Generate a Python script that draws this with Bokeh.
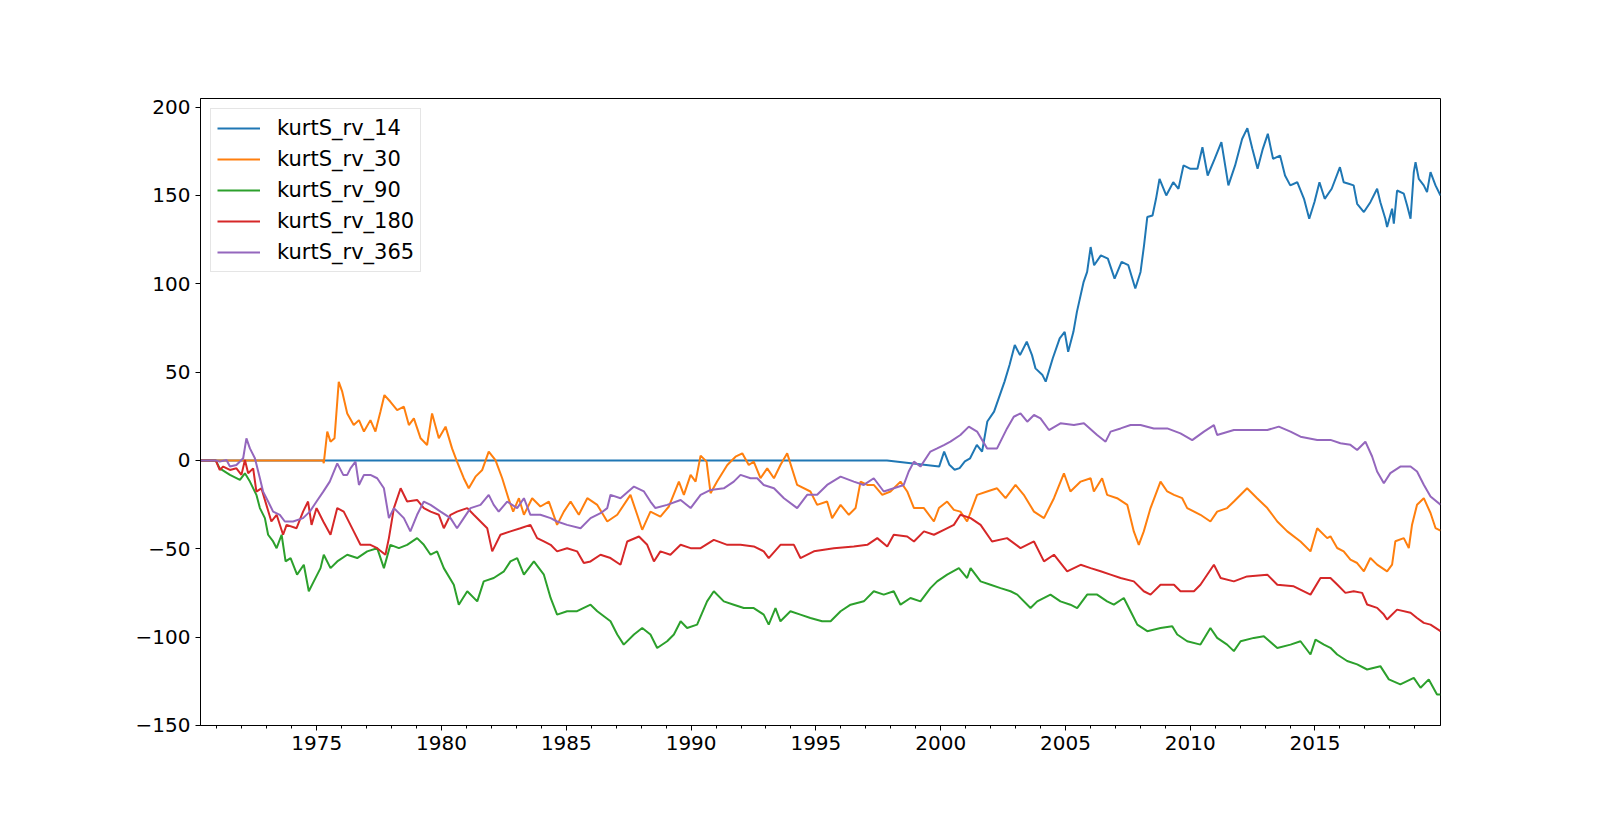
from bokeh.plotting import figure
from bokeh.models import Range1d, FixedTicker, Legend, LegendItem
from bokeh.embed import file_html
from bokeh.resources import INLINE

# (decimal year, value) pairs
kurtS_rv_14 = [
    (1970.34, 0), (1997.85, 0), (1999.94, -3.5), (2000.14, 5), (2000.35, -2.5), (2000.56, -5.3),
    (2000.76, -4.4), (2000.97, -0.6), (2001.18, 1.2), (2001.45, 8.8), (2001.66, 5), (2001.87, 22),
    (2002.14, 27.6), (2002.42, 38.9), (2002.56, 44.6), (2002.76, 54), (2002.97, 65.3), (2003.18, 59.6),
    (2003.45, 67.2), (2003.66, 59.6), (2003.80, 52.1), (2004.08, 48.3), (2004.21, 44.6), (2004.49, 57.7),
    (2004.77, 69.1), (2004.97, 72.8), (2005.11, 61.5), (2005.32, 72.8), (2005.46, 84.1), (2005.73, 101.1),
    (2005.87, 106.7), (2006.01, 120.8), (2006.15, 110.5), (2006.42, 116.1), (2006.70, 114.2), (2006.97, 102.9),
    (2007.25, 112.4), (2007.52, 110.5), (2007.80, 97.3), (2008.01, 106.7), (2008.15, 121.8), (2008.28, 137.8),
    (2008.49, 138.7), (2008.63, 148.1), (2008.77, 159.4), (2009.04, 150), (2009.32, 157.5), (2009.53, 153.8),
    (2009.73, 167), (2010.01, 165.1), (2010.29, 165.1), (2010.49, 177.3), (2010.70, 161.3), (2010.98, 170.7),
    (2011.25, 180.2), (2011.53, 155.7), (2011.80, 167), (2012.08, 182), (2012.29, 188.1), (2012.49, 176.4),
    (2012.70, 165.1), (2012.91, 176.4), (2013.11, 184.9), (2013.32, 170.7), (2013.60, 172.6), (2013.80, 161.3),
    (2014.01, 155.7), (2014.29, 157.5), (2014.56, 148.1), (2014.77, 136.8), (2014.98, 146.3), (2015.18, 157.5),
    (2015.39, 148.1), (2015.67, 153.8), (2016.0, 166), (2016.15, 157.5), (2016.35, 156.6), (2016.55, 155.7),
    (2016.69, 145.3), (2016.96, 140.6), (2017.22, 146.2), (2017.49, 153.8), (2017.62, 146.2), (2017.82, 136.8),
    (2017.89, 132.1), (2018.09, 142.5), (2018.16, 134), (2018.29, 152.8), (2018.56, 151), (2018.69, 144.4),
    (2018.83, 136.8), (2018.96, 163.2), (2019.03, 168.8), (2019.16, 159.4), (2019.36, 155.7), (2019.49, 151.9),
    (2019.63, 163.2), (2019.83, 155.7), (2020.03, 150),
]

kurtS_rv_30 = [
    (1970.34, 0), (1975.25, 0), (1975.28, -1.6), (1975.42, 16.3), (1975.55, 10.6), (1975.71, 12.5),
    (1975.88, 44.5), (1976.02, 38.9), (1976.22, 26.6), (1976.48, 20), (1976.69, 22.8), (1976.89, 16.3),
    (1977.15, 22.8), (1977.35, 16.3), (1977.55, 27.5), (1977.71, 37), (1977.95, 33.2), (1978.22, 28.5),
    (1978.49, 30.4), (1978.69, 20), (1978.89, 23.8), (1979.16, 12.5), (1979.42, 8.7), (1979.62, 26.6),
    (1979.89, 12.5), (1980.16, 19.1), (1980.42, 6.8), (1980.62, -0.7), (1980.89, -10.1), (1981.09, -15.8),
    (1981.36, -9.2), (1981.63, -5.4), (1981.89, 5), (1982.16, 0.2), (1982.43, -10.1), (1982.70, -22.4),
    (1982.87, -29), (1983.10, -21.4), (1983.30, -30.8), (1983.63, -21.4), (1983.96, -26.1), (1984.30, -23.3),
    (1984.63, -36.5), (1984.90, -29), (1985.17, -23.3), (1985.50, -30.8), (1985.84, -21.4), (1986.24, -25.2),
    (1986.64, -34.6), (1987.04, -30.8), (1987.57, -19.5), (1987.84, -30.8), (1988.04, -39.3), (1988.37, -29),
    (1988.77, -31.8), (1989.11, -26.1), (1989.51, -12), (1989.71, -19.5), (1989.98, -8.2), (1990.18, -12),
    (1990.38, 2.7), (1990.62, -0.7), (1990.78, -18.6), (1991.04, -12), (1991.45, -2.6), (1991.78, 2.1),
    (1992.05, 4), (1992.31, -2.6), (1992.51, -0.7), (1992.78, -10.1), (1993.05, -4.5), (1993.32, -10.1),
    (1993.58, -2.6), (1993.85, 4), (1994.25, -13.9), (1994.78, -17.6), (1995.05, -25.2), (1995.45, -23.3),
    (1995.65, -32.7), (1995.99, -25.2), (1996.32, -30.8), (1996.59, -27), (1996.79, -12), (1997.06, -13.9),
    (1997.32, -13.9), (1997.66, -19.5), (1997.99, -17.6), (1998.39, -12), (1998.66, -17.6), (1998.93, -27),
    (1999.33, -27), (1999.73, -34.6), (1999.93, -27), (2000.26, -23.3), (2000.53, -28), (2000.79, -29),
    (2001.06, -34.6), (2001.46, -19.5), (2001.86, -17.6), (2002.26, -15.8), (2002.60, -21.4), (2003.00, -13.9),
    (2003.33, -19.5), (2003.74, -29), (2004.14, -32.7), (2004.54, -21.4), (2004.94, -7.3), (2005.20, -17.6),
    (2005.61, -12), (2006.01, -10.1), (2006.14, -17.6), (2006.47, -10.1), (2006.67, -19.5), (2007.07, -21.4),
    (2007.48, -25.2), (2007.74, -40.2), (2007.94, -47.8), (2008.14, -40.2), (2008.41, -27), (2008.81, -12),
    (2009.08, -17.6), (2009.35, -19.5), (2009.68, -21.4), (2009.88, -27), (2010.41, -30.8), (2010.81, -34.6),
    (2011.08, -29), (2011.48, -27), (2011.75, -23.3), (2012.28, -15.8), (2012.68, -21.4), (2013.09, -27),
    (2013.49, -34.6), (2013.89, -40.2), (2014.42, -45.9), (2014.82, -51.5), (2015.09, -38.4), (2015.49, -44),
    (2015.62, -43), (2015.89, -49.6), (2016.15, -51.5), (2016.42, -56.2), (2016.69, -58.1), (2016.96, -62.8),
    (2017.22, -55.3), (2017.49, -59), (2017.89, -62.8), (2018.09, -59), (2018.22, -45.8), (2018.56, -44),
    (2018.76, -49.6), (2018.89, -36.4), (2019.09, -25.1), (2019.36, -21.4), (2019.63, -29.8), (2019.83, -38.3),
    (2020.03, -39.8),
]

kurtS_rv_90 = [
    (1970.34, 0), (1970.95, 0), (1971.11, -4.5), (1971.52, -8.2), (1971.92, -11), (1972.12, -7.3),
    (1972.32, -12), (1972.58, -19.5), (1972.72, -27), (1972.92, -32.7), (1973.05, -42.1), (1973.25, -45.9),
    (1973.39, -49.7), (1973.59, -42.1), (1973.75, -57.2), (1973.95, -55.3), (1974.21, -64.7), (1974.48, -59.1),
    (1974.68, -74.1), (1974.88, -68.5), (1975.15, -61), (1975.28, -53.4), (1975.55, -61), (1975.82, -57.2),
    (1976.22, -53.4), (1976.62, -55.3), (1977.02, -51.5), (1977.42, -49.7), (1977.69, -61), (1977.95, -47.8),
    (1978.29, -49.7), (1978.62, -47.8), (1979.02, -44), (1979.29, -47.8), (1979.56, -53.4), (1979.82, -51.5),
    (1980.09, -61), (1980.49, -70.4), (1980.69, -81.7), (1981.03, -74.1), (1981.43, -79.8), (1981.69, -68.5),
    (1982.09, -66.6), (1982.50, -62.8), (1982.76, -57.2), (1983.03, -55.3), (1983.30, -64.7), (1983.70, -57.2),
    (1984.10, -64.7), (1984.37, -77.9), (1984.63, -87.3), (1985.03, -85.4), (1985.43, -85.4), (1985.70, -83.5),
    (1985.97, -81.7), (1986.24, -85.4), (1986.77, -91.1), (1987.04, -98.6), (1987.30, -104.3), (1987.71, -98.6),
    (1988.04, -94.9), (1988.37, -98.6), (1988.64, -106.2), (1989.04, -102.4), (1989.31, -98.6), (1989.58, -91.1),
    (1989.84, -94.9), (1990.24, -93), (1990.64, -79.8), (1990.91, -74.1), (1991.31, -79.8), (1991.71, -81.7),
    (1992.11, -83.6), (1992.51, -83.6), (1992.91, -87.3), (1993.11, -93), (1993.38, -83.6), (1993.58, -91.1),
    (1993.98, -85.4), (1994.38, -87.3), (1994.78, -89.2), (1995.25, -91.1), (1995.59, -91.1), (1995.99, -85.4),
    (1996.39, -81.7), (1996.92, -79.8), (1997.32, -74.1), (1997.72, -76), (1998.12, -74.1), (1998.39, -81.7),
    (1998.79, -77.9), (1999.19, -79.8), (1999.59, -72.3), (1999.86, -68.5), (2000.26, -64.7), (2000.73, -61),
    (2001.06, -66.6), (2001.20, -61), (2001.60, -68.5), (2002.00, -70.4), (2002.40, -72.3), (2002.80, -74.1),
    (2003.07, -76), (2003.60, -83.6), (2003.87, -79.8), (2004.40, -76), (2004.80, -79.8), (2005.20, -81.7),
    (2005.47, -83.6), (2005.87, -76), (2006.27, -76), (2006.67, -79.8), (2006.94, -81.7), (2007.34, -77.9),
    (2007.61, -85.4), (2007.88, -93), (2008.28, -96.7), (2008.81, -94.9), (2009.28, -93.9), (2009.48, -98.6),
    (2009.88, -102.4), (2010.41, -104.3), (2010.81, -94.9), (2011.08, -100.5), (2011.48, -104.3), (2011.75, -108),
    (2012.02, -102.4), (2012.55, -100.5), (2012.95, -99.6), (2013.49, -106.2), (2014.02, -104.3), (2014.42, -102.4),
    (2014.82, -109.9), (2015.02, -101.5), (2015.36, -104.3), (2015.62, -106.1), (2015.89, -109.9), (2016.29, -113.6),
    (2016.69, -115.5), (2017.09, -118.4), (2017.62, -116.5), (2017.96, -124), (2018.42, -126.8), (2018.96, -123.1),
    (2019.23, -128.7), (2019.56, -124), (2019.89, -132.5), (2020.03, -132.5),
]

kurtS_rv_180 = [
    (1970.34, 0), (1970.95, 0), (1971.11, -5.4), (1971.25, -3.5), (1971.52, -5.4), (1971.78, -4.5),
    (1971.98, -8.2), (1972.12, 0.2), (1972.25, -7.3), (1972.45, -4.5), (1972.58, -17.7), (1972.78, -15.8),
    (1972.98, -25.2), (1973.18, -34.6), (1973.39, -30.8), (1973.65, -42.1), (1973.79, -36.5), (1974.19, -38.4),
    (1974.45, -29), (1974.65, -23.3), (1974.79, -36.5), (1974.99, -27), (1975.26, -34.6), (1975.55, -42.1),
    (1975.82, -27), (1976.08, -29), (1976.48, -40.2), (1976.75, -47.8), (1977.15, -47.8), (1977.42, -49.7),
    (1977.75, -53.4), (1977.89, -44), (1978.09, -27), (1978.36, -15.8), (1978.62, -23.3), (1979.02, -22.4),
    (1979.29, -27), (1979.56, -29), (1979.89, -30.8), (1980.09, -38.4), (1980.36, -30.8), (1980.62, -29),
    (1981.03, -27), (1981.29, -30.8), (1981.56, -34.6), (1981.83, -38.4), (1982.03, -51.5), (1982.36, -42.1),
    (1982.76, -40.2), (1983.16, -38.4), (1983.56, -36.5), (1983.83, -44), (1984.10, -45.9), (1984.37, -47.8),
    (1984.63, -51.5), (1985.03, -49.7), (1985.43, -51.5), (1985.70, -58.1), (1985.97, -57.2), (1986.37, -53.4),
    (1986.77, -55.3), (1987.17, -59.1), (1987.44, -45.9), (1987.91, -43.1), (1988.24, -47.8), (1988.51, -57.2),
    (1988.77, -51.5), (1989.17, -53.4), (1989.58, -47.8), (1989.98, -49.7), (1990.38, -49.7), (1990.91, -45),
    (1991.45, -47.8), (1991.98, -47.8), (1992.51, -48.7), (1992.91, -51.5), (1993.11, -55.3), (1993.58, -47.8),
    (1994.12, -47.8), (1994.38, -55.3), (1994.92, -51.5), (1995.72, -49.7), (1996.52, -48.7), (1997.06, -47.8),
    (1997.46, -44), (1997.86, -48.7), (1998.12, -42.1), (1998.66, -43.1), (1998.93, -45.9), (1999.33, -40.2),
    (1999.73, -42.1), (2000.13, -39.3), (2000.53, -36.5), (2000.79, -30.8), (2001.20, -32.7), (2001.60, -36.5),
    (2002.06, -45.9), (2002.66, -44), (2003.20, -49.7), (2003.74, -45.9), (2004.14, -57.2), (2004.54, -53.4),
    (2005.07, -62.8), (2005.61, -59.1), (2006.01, -61), (2006.41, -62.8), (2006.81, -64.7), (2007.21, -66.6),
    (2007.74, -68.5), (2008.14, -74.1), (2008.41, -76), (2008.81, -70.4), (2009.35, -70.4), (2009.61, -74.1),
    (2010.15, -74.1), (2010.41, -70.4), (2010.95, -59.1), (2011.22, -66.6), (2011.75, -68.5), (2012.28, -65.7),
    (2013.09, -64.7), (2013.49, -70.4), (2014.15, -71.3), (2014.82, -76), (2015.22, -66.6), (2015.62, -66.6),
    (2015.89, -70.3), (2016.22, -75), (2016.55, -74.1), (2016.89, -75), (2017.09, -81.6), (2017.49, -83.5),
    (2017.76, -87.3), (2017.89, -90.1), (2018.29, -84.5), (2018.83, -86.3), (2019.09, -89.2), (2019.36, -92),
    (2019.63, -93), (2020.03, -96.7),
]

kurtS_rv_365 = [
    (1970.34, 0), (1970.95, 0), (1971.11, -0.7), (1971.38, 0.2), (1971.52, -3.5), (1971.78, -2.6),
    (1972.05, 1.2), (1972.18, 12.5), (1972.32, 6.8), (1972.52, 1.2), (1972.72, -10.1), (1972.85, -17.7),
    (1973.05, -23.3), (1973.25, -29), (1973.52, -30.8), (1973.72, -34.6), (1974.05, -34.6), (1974.45, -32.7),
    (1974.72, -29), (1974.99, -23.3), (1975.26, -17.7), (1975.52, -12), (1975.82, -1.7), (1976.06, -8.2),
    (1976.22, -8.2), (1976.35, -4.5), (1976.55, -0.7), (1976.69, -13.9), (1976.89, -8.2), (1977.15, -8.2),
    (1977.42, -10.1), (1977.69, -15.8), (1977.89, -32.7), (1978.09, -27), (1978.49, -32.7), (1978.75, -40.2),
    (1979.02, -30.8), (1979.29, -23.3), (1979.56, -25.2), (1979.96, -29), (1980.36, -32.7), (1980.62, -38.4),
    (1980.89, -32.7), (1981.16, -27), (1981.56, -25.2), (1981.89, -19.5), (1982.09, -25.2), (1982.29, -29),
    (1982.63, -23.3), (1983.03, -27), (1983.30, -21.4), (1983.56, -30.8), (1983.96, -30.8), (1984.37, -32.7),
    (1984.63, -34.6), (1985.03, -36.5), (1985.57, -38.4), (1985.97, -32.7), (1986.37, -29.9), (1986.64, -27),
    (1986.77, -19.5), (1987.17, -21.4), (1987.71, -14.8), (1988.11, -17.6), (1988.37, -23.3), (1988.57, -27),
    (1989.04, -25.2), (1989.58, -22.4), (1989.98, -27), (1990.38, -19.5), (1990.78, -16.7), (1991.31, -15.8),
    (1991.71, -12), (1991.98, -8.2), (1992.38, -10.1), (1992.65, -10.1), (1992.91, -13.9), (1993.32, -15.8),
    (1993.72, -21.4), (1994.25, -27), (1994.65, -19.5), (1995.05, -19.5), (1995.45, -13.9), (1995.99, -9.2),
    (1996.52, -12), (1996.92, -13.9), (1997.32, -10.1), (1997.72, -17.6), (1998.12, -15.8), (1998.52, -13.9),
    (1998.72, -6.3), (1998.93, -0.7), (1999.19, -3.5), (1999.59, 5), (1999.86, 6.8), (2000.13, 8.7),
    (2000.39, 10.6), (2000.79, 14.4), (2001.13, 19.1), (2001.46, 16.3), (2001.86, 6.8), (2002.26, 6.8),
    (2002.66, 18.1), (2002.93, 24.7), (2003.20, 26.6), (2003.47, 21.9), (2003.74, 25.7), (2004.00, 23.8),
    (2004.34, 17.2), (2004.80, 21), (2005.34, 20), (2005.74, 21), (2006.27, 14.4), (2006.61, 10.6),
    (2006.81, 16.3), (2007.21, 18.1), (2007.61, 20), (2008.01, 20), (2008.54, 18.1), (2009.08, 18.1),
    (2009.61, 15.3), (2010.08, 11.5), (2010.55, 16.3), (2010.95, 20), (2011.08, 14.4), (2011.75, 17.2),
    (2012.55, 17.2), (2013.09, 17.2), (2013.55, 19.1), (2014.02, 16.3), (2014.42, 13.4), (2015.09, 11.5),
    (2015.62, 11.6), (2016.02, 9.7), (2016.42, 8.8), (2016.69, 5.9), (2017.02, 10.6), (2017.29, 2.2),
    (2017.49, -6.3), (2017.76, -12.9), (2018.02, -7.2), (2018.42, -3.5), (2018.83, -3.5), (2019.09, -6.3),
    (2019.36, -13.8), (2019.63, -20.4), (2020.03, -25.1),
]

series_names = ["kurtS_rv_14", "kurtS_rv_30", "kurtS_rv_90", "kurtS_rv_180", "kurtS_rv_365"]
series_data = [kurtS_rv_14, kurtS_rv_30, kurtS_rv_90, kurtS_rv_180, kurtS_rv_365]
colors = ["#1f77b4", "#ff7f0e", "#2ca02c", "#d62728", "#9467bd"]
x_ticks = [1975, 1980, 1985, 1990, 1995, 2000, 2005, 2010, 2015]
y_ticks = [-150, -100, -50, 0, 50, 100, 150, 200]

FONT = "DejaVu Sans"

p = figure(frame_width=1240, frame_height=627,
           x_range=Range1d(1970.34, 2020.03), y_range=Range1d(-150.1, 204.9),
           output_backend="svg", toolbar_location=None,
           min_border_left=200, min_border_top=98, min_border_right=100, min_border_bottom=70)
p.background_fill_color = "white"
p.border_fill_color = "white"
p.outline_line_color = "black"
p.outline_line_width = 1
p.outline_line_alpha = 1
p.xgrid.visible = False
p.ygrid.visible = False

p.xaxis.ticker = FixedTicker(ticks=x_ticks, minor_ticks=list(range(1971, 2020)))
p.yaxis.ticker = FixedTicker(ticks=y_ticks)
p.yaxis.major_label_overrides = {t: (("\u2212" + str(abs(t))) if t < 0 else str(t)) for t in y_ticks}
p.xaxis.major_label_overrides = {t: str(t) for t in x_ticks}
for ax in (p.xaxis, p.yaxis):
    ax.axis_line_color = "black"
    ax.axis_line_width = 1
    ax.major_tick_line_color = "black"
    ax.major_tick_out = 5
    ax.major_tick_in = 0
    ax.minor_tick_out = 3
    ax.minor_tick_in = 0
    ax.major_label_text_font = FONT
    ax.major_label_text_font_size = "20px"
    ax.major_label_text_color = "black"
    ax.major_label_standoff = 5
p.yaxis.minor_tick_line_color = None

items = []
for name, data, c in zip(series_names, series_data, colors):
    xs = [d[0] for d in data]
    ys = [d[1] for d in data]
    r = p.line(xs, ys, line_color=c, line_width=2)
    items.append(LegendItem(label=name, renderers=[r]))

legend = Legend(items=items, location="top_left")
legend.margin = 10
legend.padding = 6
legend.spacing = 5
legend.glyph_width = 43
legend.glyph_height = 26
legend.label_height = 26
legend.label_standoff = 17
legend.label_text_font = FONT
legend.label_text_font_size = "21px"
legend.label_text_color = "black"
legend.border_line_color = "#cccccc"
legend.border_line_width = 1
legend.background_fill_color = "white"
legend.background_fill_alpha = 0.8
p.add_layout(legend)

open("out.html", "w").write(file_html(p, INLINE))
